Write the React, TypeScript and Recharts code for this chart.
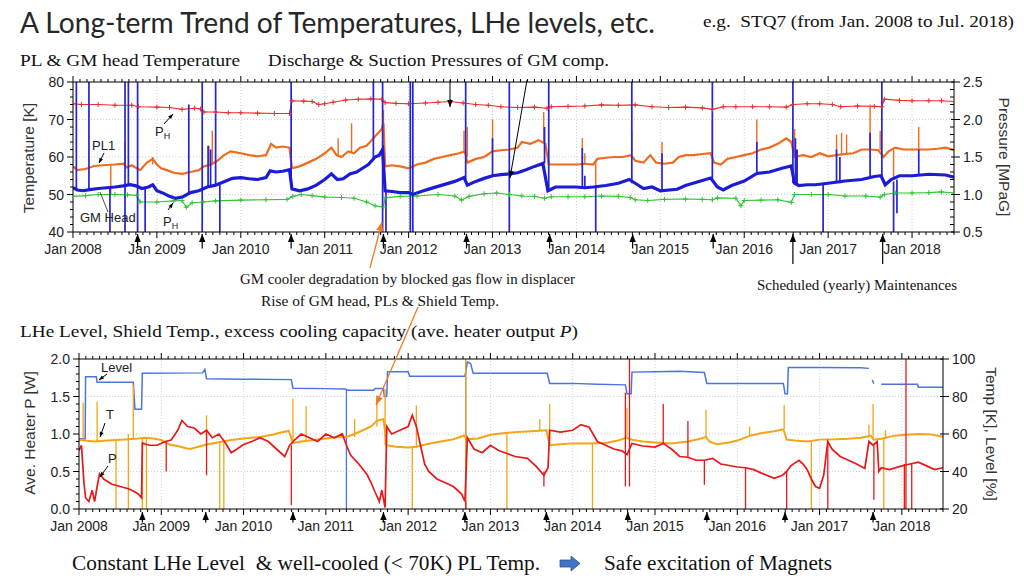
import React from "react";
import { LineChart, Line, XAxis, YAxis, ReferenceLine } from "recharts";

type Pt = [number, number | null];
type Spike = [number, number, number];

const yearLabels = [
  "Jan 2008", "Jan 2009", "Jan 2010", "Jan 2011", "Jan 2012", "Jan 2013",
  "Jan 2014", "Jan 2015", "Jan 2016", "Jan 2017", "Jan 2018",
];
const gridYears = [2009, 2010, 2011, 2012, 2013, 2014, 2015, 2016, 2017, 2018];
// scheduled (yearly) maintenances
const maintenance = [2008.77, 2009.54, 2010.6, 2011.7, 2012.69, 2013.68, 2014.67, 2015.63];
const maintenanceLong = [2016.58, 2017.65];

// ---- PL & GM head temperature [K] ----
const pl1Temp: Pt[] = [
  [2008.0, 57.5], [2008.05, 56.5], [2008.15, 56.8], [2008.25, 57.6], [2008.35, 57.8], [2008.5, 58.0],
  [2008.6, 58.2], [2008.64, 57.2], [2008.7, 57.8], [2008.76, 57.0], [2008.8, 56.5], [2008.88, 58.5],
  [2008.95, 59.5], [2009.0, 58.0], [2009.05, 57.0], [2009.12, 56.5], [2009.2, 55.8], [2009.3, 55.5],
  [2009.4, 56.0], [2009.5, 56.5], [2009.56, 57.5], [2009.65, 58.0], [2009.72, 59.0], [2009.8, 60.5],
  [2009.88, 61.5], [2010.0, 61.0], [2010.1, 60.5], [2010.2, 60.2], [2010.3, 60.5], [2010.36, 63.5],
  [2010.42, 62.5], [2010.5, 62.8], [2010.58, 62.5], [2010.61, 57.0], [2010.7, 57.5], [2010.8, 58.5],
  [2010.9, 59.5], [2011.0, 61.0], [2011.08, 62.5], [2011.14, 60.5], [2011.2, 60.0], [2011.28, 61.5],
  [2011.35, 61.0], [2011.42, 62.5], [2011.5, 63.0], [2011.56, 64.5], [2011.62, 66.0], [2011.68, 67.5],
  [2011.7, 69.0], [2011.72, 57.5], [2011.8, 57.8], [2011.9, 57.5], [2012.0, 57.0], [2012.1, 58.0],
  [2012.2, 58.5], [2012.3, 59.5], [2012.4, 60.0], [2012.5, 60.5], [2012.6, 61.0], [2012.67, 61.5],
  [2012.7, 58.5], [2012.8, 59.5], [2012.9, 60.0], [2013.0, 61.5], [2013.1, 61.8], [2013.2, 62.0],
  [2013.3, 62.5], [2013.35, 64.0], [2013.45, 63.5], [2013.55, 64.5], [2013.63, 63.5], [2013.67, 58.0],
  [2013.8, 58.0], [2013.9, 58.0], [2014.0, 58.0], [2014.1, 58.2], [2014.2, 58.0], [2014.25, 59.5],
  [2014.35, 59.8], [2014.45, 60.0], [2014.55, 60.0], [2014.65, 60.5], [2014.7, 59.0], [2014.8, 58.5],
  [2014.88, 60.5], [2014.95, 58.5], [2015.05, 58.2], [2015.15, 58.5], [2015.22, 60.0], [2015.3, 60.5],
  [2015.4, 60.5], [2015.5, 60.8], [2015.6, 61.0], [2015.64, 58.5], [2015.72, 58.0], [2015.8, 59.5],
  [2015.9, 60.0], [2016.0, 60.5], [2016.1, 61.0], [2016.2, 62.0], [2016.3, 62.5], [2016.4, 63.5],
  [2016.5, 65.0], [2016.56, 64.0], [2016.6, 60.0], [2016.7, 60.5], [2016.8, 60.0], [2016.9, 61.0],
  [2017.0, 60.2], [2017.1, 60.5], [2017.2, 60.8], [2017.3, 61.0], [2017.4, 62.0], [2017.5, 62.0],
  [2017.6, 61.8], [2017.66, 60.0], [2017.72, 61.5], [2017.8, 62.5], [2017.9, 62.0], [2018.0, 62.0],
  [2018.1, 62.0], [2018.2, 62.0], [2018.3, 62.2], [2018.4, 62.5], [2018.5, 61.8],
];
const pl1Spikes: Spike[] = [
  [2008.45, 50, 57.8], [2008.62, 58, 64], [2008.95, 58, 60], [2009.62, 58, 63], [2009.66, 58, 67],
  [2011.16, 60.5, 65], [2011.32, 61, 69], [2011.7, 67, 72.5], [2012.66, 61, 67], [2012.7, 60, 68],
  [2013.0, 61.5, 70], [2013.61, 64, 72], [2014.07, 58, 65], [2014.1, 58, 61], [2014.23, 52, 59],
  [2014.66, 60, 67], [2015.02, 58, 64], [2015.62, 61, 70], [2016.15, 61, 70], [2016.6, 60, 67.5],
  [2017.1, 60.5, 66], [2017.16, 60.5, 66.5], [2017.22, 60.5, 66], [2017.5, 62, 74], [2017.62, 61.8, 67],
  [2017.78, 54, 62], [2018.08, 62, 68],
];
const headTemp: Pt[] = [
  [2008.0, 51.8], [2008.05, 51.2], [2008.12, 51.0], [2008.2, 51.3], [2008.3, 51.6], [2008.4, 51.8],
  [2008.5, 52.0], [2008.6, 52.3], [2008.68, 52.6], [2008.75, 52.3], [2008.82, 51.6], [2008.9, 52.0],
  [2008.95, 52.6], [2009.0, 51.0], [2009.08, 50.3], [2009.15, 49.5], [2009.22, 49.0], [2009.3, 49.3],
  [2009.4, 50.5], [2009.5, 51.0], [2009.6, 52.0], [2009.7, 52.5], [2009.8, 53.4], [2009.9, 54.3],
  [2010.0, 54.5], [2010.1, 54.2], [2010.2, 54.0], [2010.3, 54.5], [2010.35, 56.3], [2010.42, 56.0],
  [2010.5, 56.2], [2010.58, 56.6], [2010.61, 51.5], [2010.7, 51.0], [2010.8, 51.5], [2010.9, 52.5],
  [2011.0, 54.0], [2011.08, 55.5], [2011.15, 54.0], [2011.22, 54.2], [2011.3, 55.5], [2011.38, 56.0],
  [2011.45, 57.0], [2011.52, 58.0], [2011.6, 60.0], [2011.65, 60.5], [2011.69, 62.0], [2011.72, 51.0],
  [2011.8, 50.8], [2011.9, 50.5], [2012.0, 50.5], [2012.05, 50.0], [2012.15, 50.8], [2012.25, 51.5],
  [2012.4, 52.5], [2012.55, 53.5], [2012.66, 54.5], [2012.7, 52.5], [2012.8, 53.5], [2012.9, 54.3],
  [2013.0, 55.0], [2013.1, 55.3], [2013.2, 55.5], [2013.3, 55.8], [2013.4, 56.6], [2013.5, 57.5],
  [2013.6, 58.3], [2013.66, 51.0], [2013.75, 52.0], [2013.9, 52.0], [2014.0, 52.0], [2014.1, 51.8],
  [2014.2, 52.0], [2014.35, 52.4], [2014.5, 53.0], [2014.63, 54.0], [2014.7, 53.0], [2014.8, 51.6],
  [2014.9, 52.0], [2015.0, 51.0], [2015.2, 51.4], [2015.3, 52.4], [2015.45, 53.4], [2015.6, 54.4],
  [2015.68, 52.0], [2015.75, 51.2], [2015.85, 52.4], [2016.0, 53.6], [2016.15, 55.6], [2016.3, 56.0],
  [2016.45, 57.0], [2016.56, 57.6], [2016.6, 53.0], [2016.65, 52.4], [2016.75, 52.6], [2016.85, 52.6],
  [2017.0, 53.0], [2017.2, 53.6], [2017.4, 54.0], [2017.55, 54.8], [2017.63, 55.0], [2017.68, 52.6],
  [2017.75, 54.0], [2017.85, 55.0], [2018.0, 55.0], [2018.2, 55.4], [2018.4, 55.2], [2018.5, 54.6],
];
const headSpikes: Spike[] = [
  [2008.04, 51.5, 80], [2008.19, 51.3, 80], [2008.44, 40, 51.8], [2008.62, 40, 80], [2008.66, 52.5, 80],
  [2008.77, 40, 80], [2008.86, 40, 51.8], [2009.38, 50.5, 74], [2009.54, 40, 80], [2009.61, 52, 63],
  [2009.64, 52, 62], [2009.7, 52.5, 80], [2009.75, 40, 52.6], [2010.6, 52, 80], [2011.58, 59.5, 80],
  [2011.69, 40, 80], [2011.73, 40, 51], [2012.02, 40, 80], [2012.05, 40, 80], [2012.68, 54, 80],
  [2013.0, 55, 65], [2013.2, 40, 80], [2013.62, 58.3, 68], [2013.67, 51, 80], [2014.07, 52, 62.4],
  [2014.1, 52, 55], [2014.23, 40, 52], [2014.66, 53, 80], [2015.02, 51, 61], [2015.62, 54, 80],
  [2016.15, 55.5, 64], [2016.58, 53, 80], [2016.61, 53, 65], [2016.63, 53, 62], [2016.94, 40, 53],
  [2017.1, 53, 62], [2017.14, 53, 60], [2017.5, 54.8, 66.5], [2017.64, 55, 80], [2017.78, 40, 53.5],
  [2017.82, 45, 54], [2018.08, 55, 62],
];

// ---- discharge / suction pressures [MPaG] ----
const dischargeP: Pt[] = [
  [2008.0, 2.21], [2008.1, 2.2], [2008.3, 2.2], [2008.5, 2.19], [2008.7, 2.19], [2008.78, 2.17],
  [2009.0, 2.165], [2009.15, 2.16], [2009.3, 2.135], [2009.45, 2.15], [2009.52, 2.14], [2009.56, 2.1],
  [2009.7, 2.1], [2009.85, 2.09], [2010.0, 2.09], [2010.2, 2.085], [2010.4, 2.08], [2010.58, 2.08],
  [2010.61, 2.25], [2010.75, 2.245], [2010.85, 2.24], [2010.93, 2.2], [2011.0, 2.21], [2011.1, 2.23],
  [2011.25, 2.26], [2011.4, 2.27], [2011.55, 2.275], [2011.68, 2.27], [2011.72, 2.225], [2011.85, 2.215],
  [2012.0, 2.21], [2012.2, 2.22], [2012.35, 2.23], [2012.5, 2.24], [2012.65, 2.22], [2012.8, 2.2],
  [2012.95, 2.19], [2013.1, 2.17], [2013.3, 2.16], [2013.5, 2.165], [2013.65, 2.15], [2013.7, 2.17],
  [2013.9, 2.175], [2014.1, 2.18], [2014.3, 2.195], [2014.5, 2.19], [2014.7, 2.195], [2014.9, 2.17],
  [2015.1, 2.16], [2015.3, 2.165], [2015.5, 2.155], [2015.62, 2.135], [2015.75, 2.17], [2015.9, 2.17],
  [2016.1, 2.17], [2016.3, 2.17], [2016.5, 2.165], [2016.58, 2.2], [2016.75, 2.21], [2016.9, 2.21],
  [2017.05, 2.2], [2017.15, 2.17], [2017.35, 2.18], [2017.55, 2.175], [2017.64, 2.17], [2017.67, 2.27],
  [2017.85, 2.255], [2018.0, 2.25], [2018.2, 2.25], [2018.35, 2.25], [2018.5, 2.24],
];
const suctionP: Pt[] = [
  [2008.0, 0.975], [2008.15, 0.985], [2008.3, 1.0], [2008.5, 1.0], [2008.65, 0.995], [2008.76, 0.99],
  [2008.8, 0.9], [2009.0, 0.9], [2009.2, 0.915], [2009.3, 0.92], [2009.35, 0.83], [2009.42, 0.89],
  [2009.55, 0.9], [2009.7, 0.915], [2010.0, 0.925], [2010.3, 0.93], [2010.55, 0.935], [2010.62, 0.975],
  [2010.72, 1.0], [2010.85, 0.985], [2011.0, 0.965], [2011.2, 0.96], [2011.35, 0.95], [2011.5, 0.9],
  [2011.6, 0.85], [2011.7, 0.83], [2011.72, 0.955], [2011.9, 0.975], [2012.1, 0.98], [2012.35, 1.0],
  [2012.55, 0.98], [2012.63, 0.925], [2012.72, 0.975], [2012.9, 1.01], [2013.05, 1.02], [2013.2, 1.0],
  [2013.35, 0.98], [2013.5, 0.975], [2013.62, 0.95], [2013.7, 0.97], [2013.9, 0.97], [2014.1, 0.97],
  [2014.3, 0.98], [2014.5, 0.975], [2014.64, 0.96], [2014.7, 0.93], [2014.85, 0.92], [2015.05, 0.935],
  [2015.3, 0.94], [2015.5, 0.935], [2015.62, 0.93], [2015.68, 0.955], [2015.9, 0.95], [2015.96, 0.85],
  [2016.0, 0.92], [2016.2, 0.925], [2016.4, 0.93], [2016.56, 0.895], [2016.6, 1.0], [2016.8, 1.0],
  [2017.0, 1.0], [2017.2, 0.98], [2017.45, 0.98], [2017.62, 0.965], [2017.67, 1.0], [2017.8, 1.02],
  [2018.0, 1.02], [2018.2, 1.025], [2018.35, 1.035], [2018.5, 1.02],
];

// ---- LHe level [%], shield temp [K], heater power [W] ----
const lheLevel: Pt[] = [
  [2008.0, 57.5], [2008.075, 57.5], [2008.08, 90.5], [2008.21, 90.5], [2008.22, 87.6], [2008.66, 87.6],
  [2008.68, 73.2], [2008.76, 73.2], [2008.77, 92.4], [2009.5, 92.6], [2009.53, 94.5], [2009.55, 89.5],
  [2010.0, 89.2], [2010.58, 89.0], [2010.6, 84.4], [2011.0, 84.2], [2011.24, 84.0], [2011.26, 83.4],
  [2011.58, 83.4], [2011.6, 84.3], [2011.7, 84.3], [2011.71, 80.0], [2011.74, 80.0], [2011.75, 93.2],
  [2012.0, 93.2], [2012.02, 90.8], [2012.69, 90.8], [2012.72, 98.4], [2012.76, 97.5], [2012.79, 92.4],
  [2013.0, 92.4], [2013.69, 92.4], [2013.72, 87.0], [2014.0, 87.0], [2014.3, 86.5], [2014.64, 86.2],
  [2014.66, 81.5], [2014.71, 81.5], [2014.72, 93.0], [2015.0, 93.2], [2015.3, 93.5], [2015.6, 92.8],
  [2015.63, 87.0], [2016.0, 87.0], [2016.56, 87.0], [2016.58, 81.5], [2016.61, 81.5], [2016.62, 95.5],
  [2017.0, 95.5], [2017.5, 95.3], [2017.6, 95.0], [2017.62, null], [2017.64, 88.8], [2017.66, 86.8],
  [2017.68, null], [2017.75, 86.5], [2018.0, 86.5], [2018.19, 86.5], [2018.2, 85.0], [2018.5, 85.0],
];
const levelSpikes: Spike[] = [[2011.25, 20, 84], [2012.7, 20, 98.4]];
const shieldTemp: Pt[] = [
  [2008.0, 57.0], [2008.1, 56.4], [2008.2, 56.0], [2008.3, 56.4], [2008.45, 56.8], [2008.6, 57.2],
  [2008.72, 57.6], [2008.8, 58.0], [2008.9, 57.6], [2009.0, 56.8], [2009.1, 54.4], [2009.2, 53.6],
  [2009.3, 52.4], [2009.35, 52.0], [2009.45, 53.2], [2009.55, 54.4], [2009.7, 55.6], [2009.85, 56.8],
  [2010.0, 57.6], [2010.2, 58.4], [2010.35, 59.6], [2010.45, 60.8], [2010.55, 61.6], [2010.6, 55.2],
  [2010.7, 56.0], [2010.85, 56.8], [2011.0, 57.6], [2011.15, 58.4], [2011.25, 58.4], [2011.35, 60.0],
  [2011.45, 62.0], [2011.55, 64.0], [2011.62, 67.0], [2011.7, 68.0], [2011.74, 54.0], [2011.85, 53.2],
  [2012.0, 52.8], [2012.1, 53.2], [2012.25, 54.8], [2012.4, 56.0], [2012.55, 57.2], [2012.68, 59.2],
  [2012.72, 57.2], [2012.85, 57.6], [2013.0, 59.6], [2013.15, 60.4], [2013.3, 61.0], [2013.5, 61.5],
  [2013.68, 62.0], [2013.72, 54.0], [2013.85, 54.5], [2014.0, 55.0], [2014.2, 55.0], [2014.4, 55.2],
  [2014.55, 56.5], [2014.65, 58.0], [2014.72, 57.0], [2014.85, 56.0], [2015.0, 55.5], [2015.2, 55.0],
  [2015.4, 56.0], [2015.55, 57.5], [2015.62, 58.5], [2015.66, 56.0], [2015.75, 54.5], [2015.9, 55.5],
  [2016.0, 56.5], [2016.15, 59.0], [2016.3, 60.5], [2016.45, 61.5], [2016.56, 62.5], [2016.6, 57.0],
  [2016.7, 56.5], [2016.85, 56.0], [2017.0, 57.0], [2017.2, 57.2], [2017.35, 57.5], [2017.5, 58.0],
  [2017.62, 59.0], [2017.66, 57.0], [2017.75, 57.5], [2017.9, 59.0], [2018.0, 59.5], [2018.2, 60.0],
  [2018.35, 59.8], [2018.5, 58.5],
];
const shieldSpikes: Spike[] = [
  [2008.05, 56.5, 76.8], [2008.22, 56, 77.2], [2008.45, 20, 56.8], [2008.6, 20, 60], [2008.66, 57.2, 86],
  [2008.77, 20, 58], [2008.82, 20, 58], [2009.55, 54.4, 70], [2009.71, 20, 55.6], [2009.76, 20, 55.8],
  [2010.6, 55.2, 78.8], [2010.76, 56, 74.8], [2011.35, 58.4, 68], [2011.62, 64, 78], [2011.72, 54, 84],
  [2012.05, 20, 53], [2012.1, 53, 75.2], [2012.7, 20, 100], [2013.2, 20, 60.4], [2013.6, 61.5, 68],
  [2013.72, 54, 76], [2014.24, 20, 55], [2014.66, 58, 74], [2015.62, 58.5, 73], [2016.15, 59, 64],
  [2016.57, 62.5, 75.5], [2016.9, 20, 56], [2017.6, 59, 65], [2017.65, 57, 76], [2017.78, 20, 57.5],
  [2017.8, 57.5, 62],
];
const heaterP: Pt[] = [
  [2008.0, 0.78], [2008.03, 0.85], [2008.06, 0.35], [2008.08, 0.15], [2008.12, 0.1], [2008.16, 0.25],
  [2008.19, 0.1], [2008.22, 0.3], [2008.25, 0.47], [2008.3, 0.4], [2008.4, 0.33], [2008.5, 0.3],
  [2008.6, 0.27], [2008.66, 0.24], [2008.72, 0.2], [2008.76, 0.15], [2008.77, 0.88], [2008.85, 0.85],
  [2008.95, 0.85], [2009.05, 0.9], [2009.12, 0.92], [2009.2, 1.05], [2009.25, 1.18], [2009.32, 1.1],
  [2009.4, 1.08], [2009.48, 1.0], [2009.55, 1.05], [2009.62, 0.95], [2009.7, 1.0], [2009.78, 0.88],
  [2009.85, 0.75], [2009.92, 0.8], [2010.0, 0.86], [2010.1, 0.9], [2010.2, 0.95], [2010.3, 0.9],
  [2010.38, 0.82], [2010.45, 0.75], [2010.5, 0.7], [2010.56, 0.85], [2010.62, 0.92], [2010.7, 1.0],
  [2010.8, 0.95], [2010.9, 0.9], [2011.0, 1.0], [2011.1, 0.95], [2011.2, 1.0], [2011.25, 0.85],
  [2011.3, 0.72], [2011.4, 0.6], [2011.5, 0.46], [2011.55, 0.35], [2011.6, 0.22], [2011.65, 0.1],
  [2011.68, 0.25], [2011.72, 0.02], [2011.74, 1.1], [2011.8, 1.0], [2011.9, 1.05], [2012.0, 1.1],
  [2012.05, 1.25], [2012.1, 1.1], [2012.15, 0.85], [2012.2, 0.6], [2012.25, 0.5], [2012.35, 0.4],
  [2012.45, 0.35], [2012.55, 0.3], [2012.65, 0.2], [2012.69, 0.1], [2012.72, 0.95], [2012.8, 0.8],
  [2012.9, 0.75], [2013.0, 0.85], [2013.1, 0.78], [2013.3, 0.7], [2013.45, 0.675], [2013.55, 0.575],
  [2013.65, 0.45], [2013.7, 0.55], [2013.72, 1.05], [2013.85, 1.025], [2014.0, 1.05], [2014.1, 1.125],
  [2014.2, 1.09], [2014.3, 0.9], [2014.4, 0.85], [2014.5, 0.8], [2014.6, 0.775], [2014.66, 0.725],
  [2014.72, 0.875], [2014.85, 0.84], [2015.0, 0.825], [2015.1, 0.875], [2015.2, 0.8], [2015.3, 0.7],
  [2015.4, 0.69], [2015.5, 0.65], [2015.6, 0.65], [2015.7, 0.675], [2015.8, 0.6], [2016.0, 0.56],
  [2016.1, 0.55], [2016.2, 0.525], [2016.3, 0.475], [2016.45, 0.41], [2016.55, 0.45], [2016.6, 0.5],
  [2016.65, 0.575], [2016.75, 0.65], [2016.8, 0.6], [2016.85, 0.525], [2016.9, 0.4], [2016.95, 0.3],
  [2017.0, 0.275], [2017.05, 0.45], [2017.1, 0.9], [2017.15, 0.8], [2017.25, 0.7], [2017.35, 0.65],
  [2017.45, 0.6], [2017.55, 0.54], [2017.6, 0.9], [2017.65, 0.85], [2017.7, 0.9], [2017.72, 0.5],
  [2017.75, 0.55], [2017.85, 0.525], [2018.0, 0.575], [2018.1, 0.6], [2018.2, 0.625], [2018.3, 0.575],
  [2018.4, 0.525], [2018.5, 0.55],
];
const heaterSpikes: Spike[] = [
  [2009.06, 0.5, 0.9], [2009.55, 0.45, 1.05], [2010.58, 0.05, 0.85], [2012.7, 0.0, 0.1], [2013.65, 0.3, 0.5],
  [2014.64, 0.3, 1.55], [2014.69, 0.3, 2.0], [2015.1, 0.875, 1.4], [2015.4, 0.69, 1.175],
  [2015.6, 0.325, 0.65], [2016.1, 0.0, 0.55], [2016.6, 0.0, 0.5], [2017.1, 0.0, 0.9],
  [2017.66, 0.125, 0.85], [2018.03, 0.0, 0.6], [2018.05, 0.0, 2.0], [2018.12, 0.0, 0.6],
];

// axis tick positions
const monthTicks = Array.from({ length: 127 }, (_, i) => 2008 + i / 12);
const tempTicks = Array.from({ length: 21 }, (_, i) => 40 + i * 2);
const pressTicks = Array.from({ length: 21 }, (_, i) => +(0.5 + i * 0.1).toFixed(1));
const heaterTicks = Array.from({ length: 21 }, (_, i) => +(i * 0.1).toFixed(1));
const levelTicks = [20, 40, 60, 80, 100];

const pts = (a: Pt[]) => a.map(([t, v]) => ({ t, v }));
const spikePts = (a: Spike[]) =>
  a.flatMap(([t, lo, hi]) => [{ t, v: lo }, { t, v: hi }, { t, v: null }]);

const SANS = "'Liberation Sans', Arial, sans-serif";
const SERIF = "'Liberation Serif', 'Times New Roman', serif";
const isYear = (v: number) => Math.abs(v - Math.round(v)) < 1e-6;
const isHalf = (v: number) => Math.abs(v * 2 - Math.round(v * 2)) < 1e-6;

const BottomTick = (p: any) => {
  const v = p.payload.value;
  const major = isYear(v);
  return (
    <g>
      <line x1={p.x} x2={p.x} y1={p.y} y2={p.y + (major ? 6 : 3)} stroke="#000" />
      {major && (
        <text x={p.x} y={p.y + 22} textAnchor="middle" fontSize={14} fontFamily={SANS} fill="#222">
          {yearLabels[Math.round(v) - 2008]}
        </text>
      )}
    </g>
  );
};
const TopTick = (p: any) => {
  const major = isYear(p.payload.value);
  return <line x1={p.x} x2={p.x} y1={p.y} y2={p.y - (major ? 6 : 3)} stroke="#000" />;
};
const makeLeftTick = (isMajor: (v: number) => boolean, fmt: (v: number) => string) => (p: any) => {
  const v = p.payload.value;
  const major = isMajor(v);
  return (
    <g>
      <line x1={p.x} x2={p.x - (major ? 6 : 3)} y1={p.y} y2={p.y} stroke="#000" />
      {major && (
        <text x={p.x - 9} y={p.y + 5} textAnchor="end" fontSize={14} fontFamily={SANS} fill="#222">
          {fmt(v)}
        </text>
      )}
    </g>
  );
};
const makeRightTick = (isMajor: (v: number) => boolean, fmt: (v: number) => string) => (p: any) => {
  const v = p.payload.value;
  const major = isMajor(v);
  return (
    <g>
      {major ? (
        <line x1={p.x - 3} x2={p.x + 6} y1={p.y} y2={p.y} stroke="#000" />
      ) : (
        <line x1={p.x} x2={p.x - 4} y1={p.y} y2={p.y} stroke="#000" />
      )}
      {major && (
        <text x={p.x + 9} y={p.y + 5} textAnchor="start" fontSize={14} fontFamily={SANS} fill="#222">
          {fmt(v)}
        </text>
      )}
    </g>
  );
};

const PlusDot = (p: any) => {
  if (p.cx == null || p.cy == null || p.value == null) return <g key={p.key} />;
  return (
    <path
      key={p.key}
      d={`M${p.cx - 2.5},${p.cy}H${p.cx + 2.5}M${p.cx},${p.cy - 2.5}V${p.cy + 2.5}`}
      stroke={p.stroke}
      strokeWidth={1}
    />
  );
};

const headPts = (x1: number, y1: number, x2: number, y2: number, s: number) => {
  const a = Math.atan2(y2 - y1, x2 - x1);
  const bx = x2 - s * Math.cos(a);
  const by = y2 - s * Math.sin(a);
  const w = s * 0.4;
  return `${x2},${y2} ${bx + w * Math.sin(a)},${by - w * Math.cos(a)} ${bx - w * Math.sin(a)},${by + w * Math.cos(a)}`;
};
const ArrowShape = (p: any) => (
  <g>
    <line x1={p.x1} y1={p.y1} x2={p.x2} y2={p.y2} stroke="#000" strokeWidth={1.2} />
    <polygon points={headPts(p.x1, p.y1, p.x2, p.y2, 8)} fill="#000" />
  </g>
);

const Arrow = ({ x1, y1, x2, y2, color = "#000", w = 1, s = 7 }: any) => (
  <g>
    <line x1={x1} y1={y1} x2={x2} y2={y2} stroke={color} strokeWidth={w} />
    <polygon points={headPts(x1, y1, x2, y2, s)} fill={color} />
  </g>
);

const grid = { stroke: "#cfcfcf", strokeDasharray: "1 2" };

const TopChart = () => (
  <LineChart width={1024} height={275} margin={{ top: 80, right: 30, bottom: 18, left: 33 }}>
    <XAxis xAxisId="b" dataKey="t" type="number" domain={[2008, 2018.5]} allowDataOverflow
      ticks={monthTicks} interval={0} tick={BottomTick} tickLine={false} tickSize={0} tickMargin={0}
      height={25} axisLine={{ stroke: "#000" }} />
    <XAxis xAxisId="top" orientation="top" dataKey="t" type="number" domain={[2008, 2018.5]} allowDataOverflow
      ticks={monthTicks} interval={0} tick={TopTick} tickLine={false} tickSize={0} tickMargin={0}
      height={2} axisLine={{ stroke: "#000" }} />
    <YAxis yAxisId="l" domain={[40, 80]} allowDataOverflow ticks={tempTicks} interval={0}
      tick={makeLeftTick((v) => v % 10 === 0, (v) => String(v))} tickLine={false} tickSize={0} tickMargin={0}
      width={40} axisLine={{ stroke: "#000" }} />
    <YAxis yAxisId="r" orientation="right" domain={[0.5, 2.5]} allowDataOverflow ticks={pressTicks} interval={0}
      tick={makeRightTick(isHalf, (v) => v.toFixed(1))} tickLine={false} tickSize={0} tickMargin={0}
      width={40} axisLine={{ stroke: "#000" }} />
    {gridYears.map((y) => (
      <ReferenceLine key={"gx" + y} xAxisId="b" yAxisId="l" x={y} {...grid} />
    ))}
    {[50, 60, 70].map((y) => (
      <ReferenceLine key={"gy" + y} xAxisId="b" yAxisId="l" y={y} {...grid} />
    ))}
    <Line xAxisId="b" yAxisId="r" data={pts(suctionP)} dataKey="v" stroke="#2fc52f" strokeWidth={1.2}
      dot={PlusDot} isAnimationActive={false} />
    <Line xAxisId="b" yAxisId="r" data={pts(dischargeP)} dataKey="v" stroke="#ee2c2c" strokeWidth={1.2}
      dot={PlusDot} isAnimationActive={false} />
    <Line xAxisId="b" yAxisId="l" data={pts(pl1Temp)} dataKey="v" stroke="#f26a1b" strokeWidth={2.2}
      dot={false} isAnimationActive={false} />
    <Line xAxisId="b" yAxisId="l" data={spikePts(pl1Spikes)} dataKey="v" stroke="#f26a1b" strokeWidth={1.4}
      dot={false} isAnimationActive={false} />
    <Line xAxisId="b" yAxisId="l" data={spikePts(headSpikes)} dataKey="v" stroke="#2424d8" strokeWidth={1.7}
      dot={false} isAnimationActive={false} />
    <Line xAxisId="b" yAxisId="l" data={pts(headTemp)} dataKey="v" stroke="#1c1cd8" strokeWidth={3.2}
      dot={false} isAnimationActive={false} />
    {maintenance.map((t) => (
      <ReferenceLine key={"m" + t} xAxisId="b" yAxisId="l" ifOverflow="visible"
        segment={[{ x: t, y: 35.6 }, { x: t, y: 39.5 }]} shape={ArrowShape} />
    ))}
    {maintenanceLong.map((t) => (
      <ReferenceLine key={"ml" + t} xAxisId="b" yAxisId="l" ifOverflow="visible"
        segment={[{ x: t, y: 31.5 }, { x: t, y: 39.5 }]} shape={ArrowShape} />
    ))}
  </LineChart>
);

const BottomChart = () => (
  <LineChart width={1024} height={214} margin={{ top: 27, right: 41, bottom: 10, left: 39 }}>
    <XAxis xAxisId="b" dataKey="t" type="number" domain={[2008, 2018.5]} allowDataOverflow
      ticks={monthTicks} interval={0} tick={BottomTick} tickLine={false} tickSize={0} tickMargin={0}
      height={25} axisLine={{ stroke: "#000" }} />
    <XAxis xAxisId="top" orientation="top" dataKey="t" type="number" domain={[2008, 2018.5]} allowDataOverflow
      ticks={monthTicks} interval={0} tick={TopTick} tickLine={false} tickSize={0} tickMargin={0}
      height={2} axisLine={{ stroke: "#000" }} />
    <YAxis yAxisId="l" domain={[0, 2]} allowDataOverflow ticks={heaterTicks} interval={0}
      tick={makeLeftTick(isHalf, (v) => v.toFixed(1))} tickLine={false} tickSize={0} tickMargin={0}
      width={40} axisLine={{ stroke: "#000" }} />
    <YAxis yAxisId="r" orientation="right" domain={[20, 100]} allowDataOverflow ticks={levelTicks} interval={0}
      tick={makeRightTick(() => true, (v) => String(v))} tickLine={false} tickSize={0} tickMargin={0}
      width={40} axisLine={{ stroke: "#000" }} />
    {gridYears.map((y) => (
      <ReferenceLine key={"gx" + y} xAxisId="b" yAxisId="l" x={y} {...grid} />
    ))}
    {[0.5, 1.0, 1.5].map((y) => (
      <ReferenceLine key={"gy" + y} xAxisId="b" yAxisId="l" y={y} {...grid} />
    ))}
    <Line xAxisId="b" yAxisId="r" data={pts(lheLevel)} dataKey="v" stroke="#4a74e0" strokeWidth={1.5}
      dot={false} isAnimationActive={false} />
    <Line xAxisId="b" yAxisId="r" data={spikePts(levelSpikes)} dataKey="v" stroke="#4a74e0" strokeWidth={1.3}
      dot={false} isAnimationActive={false} />
    <Line xAxisId="b" yAxisId="r" data={pts(shieldTemp)} dataKey="v" stroke="#f5a416" strokeWidth={2}
      dot={false} isAnimationActive={false} />
    <Line xAxisId="b" yAxisId="r" data={spikePts(shieldSpikes)} dataKey="v" stroke="#f5a416" strokeWidth={1.3}
      dot={false} isAnimationActive={false} />
    <Line xAxisId="b" yAxisId="l" data={pts(heaterP)} dataKey="v" stroke="#e81818" strokeWidth={1.7}
      dot={false} isAnimationActive={false} />
    <Line xAxisId="b" yAxisId="l" data={spikePts(heaterSpikes)} dataKey="v" stroke="#e81818" strokeWidth={1.3}
      dot={false} isAnimationActive={false} />
    {[...maintenance, ...maintenanceLong].map((t) => (
      <ReferenceLine key={"m" + t} xAxisId="b" yAxisId="l" ifOverflow="visible"
        segment={[{ x: t, y: -0.18 }, { x: t, y: -0.04 }]} shape={ArrowShape} />
    ))}
  </LineChart>
);

const Overlay = () => (
  <svg width={1024} height={576} style={{ position: "absolute", left: 0, top: 0, pointerEvents: "none" }}>
    <text x={20} y={33} fontSize={28} fontFamily="Lato, 'Open Sans', sans-serif" fill="#262626"
      textLength={635} lengthAdjust="spacingAndGlyphs">
      A Long-term Trend of Temperatures, LHe levels, etc.
    </text>
    <text x={703} y={27} fontSize={16} fontFamily={SERIF} fill="#111" textLength={311} lengthAdjust="spacingAndGlyphs">
      {"e.g.\u00a0\u00a0STQ7 (from Jan. 2008 to Jul. 2018)"}
    </text>
    <text x={20} y={66} fontSize={17} fontFamily={SERIF} fill="#111" textLength={220} lengthAdjust="spacingAndGlyphs">
      PL &amp; GM head Temperature
    </text>
    <text x={268} y={66} fontSize={17} fontFamily={SERIF} fill="#111" textLength={341} lengthAdjust="spacingAndGlyphs">
      Discharge &amp; Suction Pressures of GM comp.
    </text>

    <text transform="translate(34,158) rotate(-90)" textAnchor="middle" fontSize={15.5} fontFamily={SANS} fill="#333">
      Temperature [K]
    </text>
    <text transform="translate(999,157) rotate(90)" textAnchor="middle" fontSize={15.5} fontFamily={SANS} fill="#333">
      Pressure [MPaG]
    </text>
    <text transform="translate(35,433) rotate(-90)" textAnchor="middle" fontSize={15.5} fontFamily={SANS} fill="#333">
      Ave. Heater P [W]
    </text>
    <text transform="translate(986,434) rotate(90)" textAnchor="middle" fontSize={15.5} fontFamily={SANS} fill="#333">
      Temp [K], Level [%]
    </text>

    {/* series labels */}
    <g fontFamily={SANS} fontSize={13} fill="#222">
      <text x={92} y={150}>PL1</text>
      <text x={155} y={136}>P<tspan fontSize={9} dy={3}>H</tspan></text>
      <text x={80} y={222}>GM Head</text>
      <text x={163} y={226}>P<tspan fontSize={9} dy={3}>H</tspan></text>
      <text x={101} y={372}>Level</text>
      <text x={106} y={419}>T</text>
      <text x={108} y={463}>P</text>
    </g>
    <Arrow x1={104} y1={153} x2={99} y2={163} s={5} />
    <Arrow x1={164} y1={124} x2={173} y2={114} s={5} />
    <line x1={108} y1={212} x2={100} y2={192} stroke="#222" strokeWidth={0.8} />
    <Arrow x1={168} y1={210} x2={173} y2={203} s={5} />
    <Arrow x1={107} y1={374} x2={99} y2={380} s={5} />
    <Arrow x1={105} y1={423} x2={100} y2={437} s={5} />
    <Arrow x1={108} y1={466} x2={100} y2={477} s={5} />

    {/* pointers to discharge/suction pressures */}
    <Arrow x1={450} y1={80} x2={450} y2={107} s={7} />
    <Arrow x1={527} y1={80} x2={510} y2={178} s={7} />

    {/* GM cooler degradation annotation */}
    <Arrow x1={370} y1={268} x2={382} y2={222} color="#f07a26" w={1.3} s={9} />
    <Arrow x1={418} y1={307} x2={376} y2={405} color="#f07a26" w={1.3} s={9} />
    <text x={240} y={284} fontSize={14} fontFamily={SERIF} fill="#111" textLength={335} lengthAdjust="spacingAndGlyphs">
      GM cooler degradation by blocked gas flow in displacer
    </text>
    <text x={261} y={306} fontSize={14} fontFamily={SERIF} fill="#111" textLength={238} lengthAdjust="spacingAndGlyphs">
      Rise of GM head, PLs &amp; Shield Temp.
    </text>
    <text x={757} y={290} fontSize={14} fontFamily={SERIF} fill="#111" textLength={200} lengthAdjust="spacingAndGlyphs">
      Scheduled (yearly) Maintenances
    </text>
    <text x={20} y={337} fontSize={17} fontFamily={SERIF} fill="#111" textLength={558} lengthAdjust="spacingAndGlyphs">
      LHe Level, Shield Temp., excess cooling capacity (ave. heater output <tspan fontStyle="italic">P</tspan>)
    </text>

    {/* bottom message */}
    <text x={72} y={570} fontSize={20} fontFamily={SERIF} fill="#111" textLength={468} lengthAdjust="spacingAndGlyphs">
      {"Constant LHe Level\u00a0 & well-cooled (< 70K) PL Temp."}
    </text>
    <polygon points="560,560 571,560 571,556 580,563.5 571,571 571,567 560,567" fill="#4472c4" stroke="#2f528f" strokeWidth={0.8} />
    <text x={604} y={570} fontSize={20} fontFamily={SERIF} fill="#111" textLength={228} lengthAdjust="spacingAndGlyphs">
      Safe excitation of Magnets
    </text>
  </svg>
);

export default function App() {
  return (
    <div style={{ position: "absolute", left: 0, top: 0, width: 1024, height: 576, background: "#fff", overflow: "hidden" }}>
      <div style={{ position: "absolute", left: 0, top: 0 }}>
        <TopChart />
      </div>
      <div style={{ position: "absolute", left: 0, top: 330 }}>
        <BottomChart />
      </div>
      <Overlay />
    </div>
  );
}
